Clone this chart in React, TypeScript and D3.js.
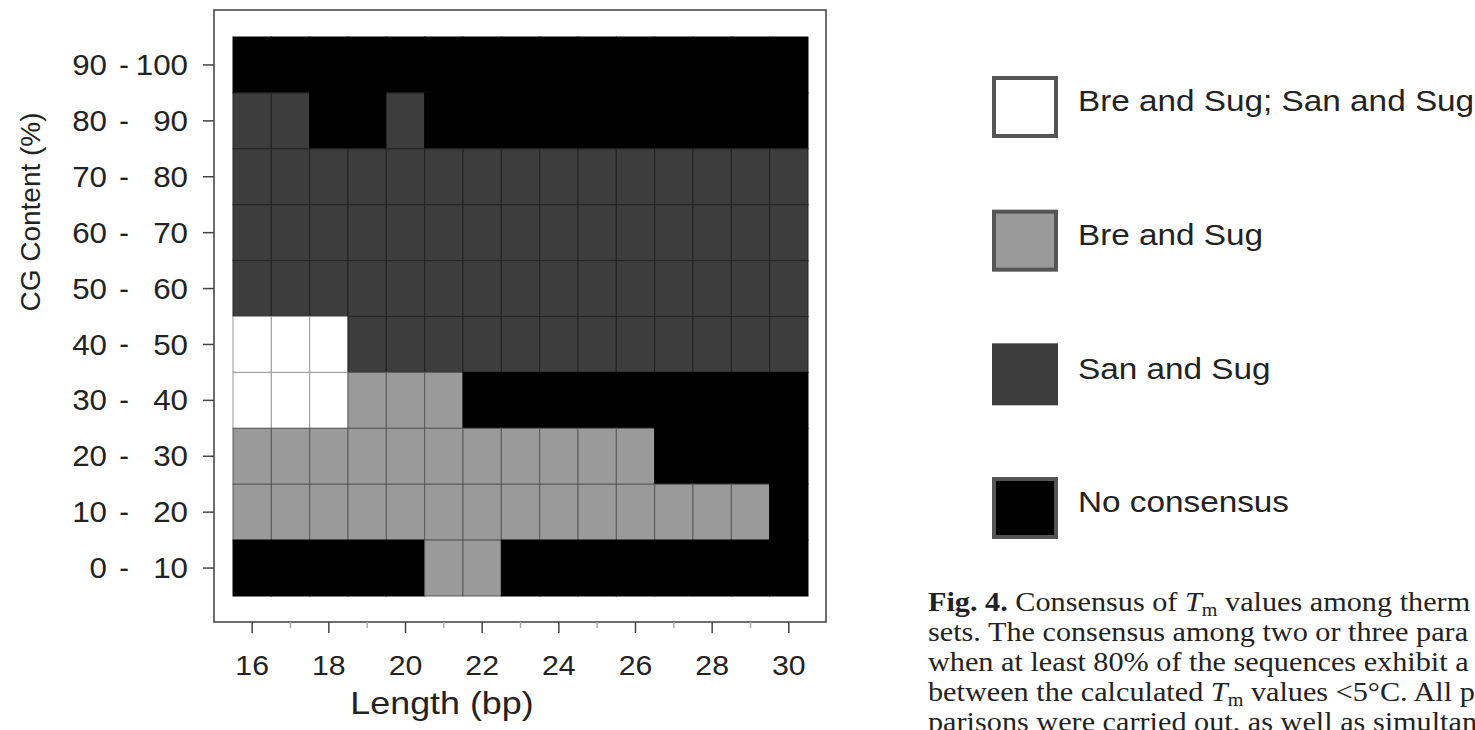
import React from "react";
import * as d3 from "d3";

// x categories: primer length (bp)
const lengths = [16, 17, 18, 19, 20, 21, 22, 23, 24, 25, 26, 27, 28, 29, 30];
const lengthLabels = [16, 18, 20, 22, 24, 26, 28, 30];

// y categories: CG content bins, top to bottom
const binLow = ["90", "80", "70", "60", "50", "40", "30", "20", "10", "0"];
const binHigh = ["100", "90", "80", "70", "60", "50", "40", "30", "20", "10"];

// consensus code per cell, one string per bin (same order as above), one char per length
// W = Bre and Sug; San and Sug, G = Bre and Sug, D = San and Sug, N = No consensus
const consensusRows = [
  "NNNNNNNNNNNNNNN",
  "DDNNDNNNNNNNNNN",
  "DDDDDDDDDDDDDDD",
  "DDDDDDDDDDDDDDD",
  "DDDDDDDDDDDDDDD",
  "WWWDDDDDDDDDDDD",
  "WWWGGGNNNNNNNNN",
  "GGGGGGGGGGGNNNN",
  "GGGGGGGGGGGGGGN",
  "NNNNNGGNNNNNNNN",
];

const legendCodes = ["W", "G", "D", "N"];
const legendLabels = ["Bre and Sug; San and Sug", "Bre and Sug", "San and Sug", "No consensus"];

const fillOf: Record<string, string> = { W: "#ffffff", G: "#9a9a9a", D: "#3d3d3d", N: "#000000" };
const lineOf: Record<string, string> = { W: "#9a9a9a", G: "#5a5a5a", D: "#222222", N: "#000000" };

export default function App() {
  const bins = binLow.map((lo, i) => lo + "-" + binHigh[i]);

  const x = d3.scaleBand<number>().domain(lengths).range([233, 808]);
  const y = d3.scaleBand<string>().domain(bins).range([37, 596]);

  const cells: { len: number; bin: string; code: string }[] = [];
  consensusRows.forEach((row, r) => {
    row.split("").forEach((code, c) => {
      cells.push({ len: lengths[c], bin: bins[r], code });
    });
  });

  const legendY = d3.scalePoint<string>().domain(legendCodes).range([107, 508]);

  const sans = "'Liberation Sans', Arial, Helvetica, sans-serif";
  const serif = "'Liberation Serif', 'Times New Roman', serif";

  // caption as far as it is visible in the figure (the page cuts it on the right)
  const sub = (k: string) => <tspan key={k} fontSize="18" dy="5">m</tspan>;
  const caption = [
    [<tspan key="a" fontWeight="bold">Fig. 4.</tspan>, " Consensus of ", <tspan key="b" fontStyle="italic">T</tspan>, sub("c"), <tspan key="d" dy="-5"> values among therm</tspan>],
    ["sets. The consensus among two or three para"],
    ["when at least 80% of the sequences exhibit a"],
    ["between the calculated ", <tspan key="e" fontStyle="italic">T</tspan>, sub("f"), <tspan key="g" dy="-5"> values &lt;5°C. All p</tspan>],
    ["parisons were carried out, as well as simultane"],
  ];

  return (
    <svg width={1475} height={730} style={{ position: "absolute", left: 0, top: 0, background: "#fff" }}>
      {/* plot frame */}
      <rect x={214} y={10} width={612} height={612} fill="#fff" stroke="#4a4a4a" strokeWidth={1.6} />

      {/* cells */}
      <g>
        {cells.map((d, i) => (
          <rect
            key={i}
            x={x(d.len)}
            y={y(d.bin)}
            width={x.bandwidth()}
            height={y.bandwidth()}
            fill={fillOf[d.code]}
            stroke={lineOf[d.code]}
            strokeWidth={1}
          />
        ))}
      </g>

      {/* y axis ticks and labels */}
      <g fontFamily={sans} fontSize={29} fill="#222">
        {bins.map((b, i) => {
          const cy = (y(b) as number) + y.bandwidth() / 2;
          return (
            <g key={b}>
              <line x1={203} x2={214} y1={cy} y2={cy} stroke="#444" strokeWidth={1.5} />
              <text transform={`translate(107,${cy}) scale(1.08,1)`} textAnchor="end" dominantBaseline="central">{binLow[i]}</text>
              <text x={124} y={cy} textAnchor="middle" dominantBaseline="central">-</text>
              <text transform={`translate(188,${cy}) scale(1.08,1)`} textAnchor="end" dominantBaseline="central">{binHigh[i]}</text>
            </g>
          );
        })}
      </g>

      {/* x axis ticks and labels */}
      <g fontFamily={sans} fontSize={28} fill="#222">
        {lengths.map((l) => {
          const cx = (x(l) as number) + x.bandwidth() / 2;
          const major = lengthLabels.includes(l);
          return (
            <line key={l} x1={cx} x2={cx} y1={622} y2={major ? 633 : 628} stroke={major ? "#444" : "#aaa"} strokeWidth={1.5} />
          );
        })}
        {lengthLabels.map((l) => (
          <text key={l} transform={`translate(${(x(l) as number) + x.bandwidth() / 2},665) scale(1.08,1)`} textAnchor="middle" dominantBaseline="central">{l}</text>
        ))}
      </g>

      {/* axis titles */}
      <text transform="translate(442,714) scale(1.12,1)" textAnchor="middle" fontFamily={sans} fontSize={32} fill="#222">Length (bp)</text>
      <text transform="translate(40,212) rotate(-90)" textAnchor="middle" fontFamily={sans} fontSize={28} fill="#222">CG Content (%)</text>

      {/* legend */}
      <g fontFamily={sans} fontSize={30} fill="#222">
        {legendCodes.map((c, i) => {
          const cy = legendY(c) as number;
          return (
            <g key={c}>
              <rect x={994} y={cy - 29} width={62} height={58} fill={fillOf[c]} stroke={c === "D" ? "#3d3d3d" : "#555"} strokeWidth={4} />
              <text transform={`translate(1078,${cy - 6}) scale(1.11,1)`} dominantBaseline="central">{legendLabels[i]}</text>
            </g>
          );
        })}
      </g>

      {/* caption */}
      <g fontFamily={serif} fontSize={27} fill="#222">
        {caption.map((parts, i) => (
          <text key={i} transform={`translate(928,${611 + i * 30}) scale(1.12,1)`}>{parts}</text>
        ))}
      </g>
    </svg>
  );
}
